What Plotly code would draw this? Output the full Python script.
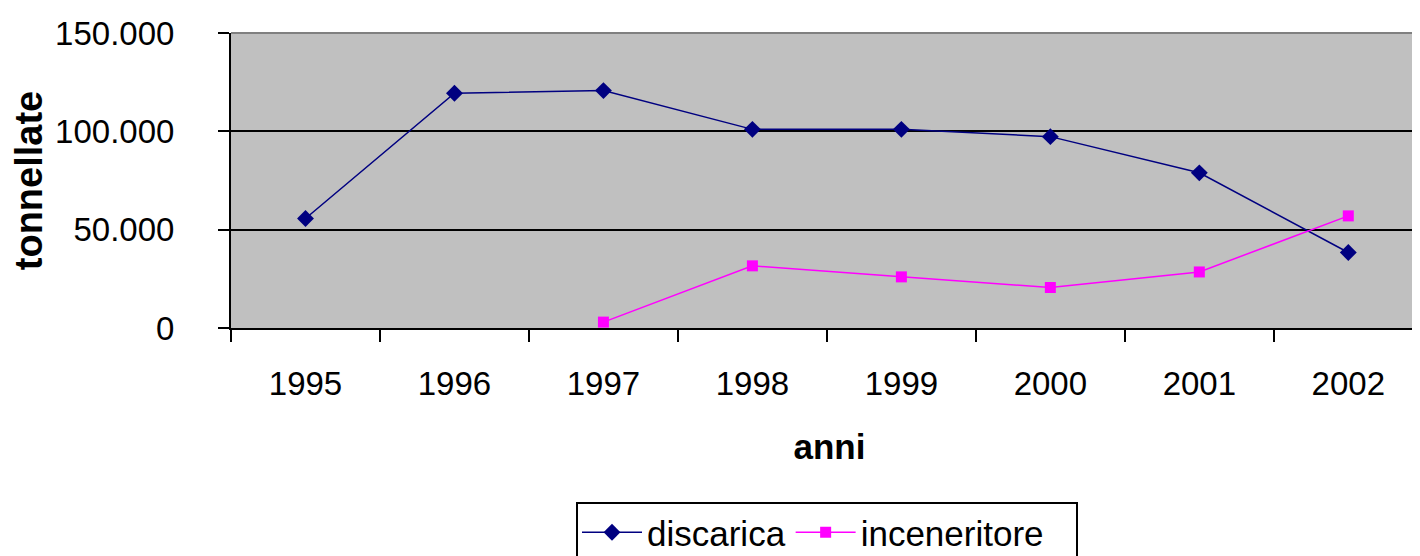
import plotly.graph_objects as go

anni = ["1995", "1996", "1997", "1998", "1999", "2000", "2001", "2002"]
discarica = [55700, 119400, 120700, 101000, 101000, 97300, 78900, 38400]
inceneritore = [None, None, 3000, 31600, 26000, 20600, 28500, 57000]
y_ticks = [0, 50000, 100000, 150000]
y_tick_labels = ["0", "50.000", "100.000", "150.000"]

FONT = "Liberation Sans, Arial, sans-serif"

fig = go.Figure()
fig.add_trace(go.Scatter(
    x=anni, y=discarica, name="discarica", mode="lines+markers",
    line=dict(color="#000080", width=1.5),
    marker=dict(symbol="diamond", size=13, color="#000080"),
))
fig.add_trace(go.Scatter(
    x=anni, y=inceneritore, name="inceneritore", mode="lines+markers",
    line=dict(color="#FF00FF", width=1.5),
    marker=dict(symbol="square", size=11, color="#FF00FF"),
))

# page body has an 8px margin, so the figure is drawn shifted by (8, 8)
fig.update_layout(
    width=1420, height=556,
    margin=dict(l=223, r=0, t=25, b=236, autoexpand=False),
    paper_bgcolor="white",
    plot_bgcolor="#C0C0C0",
    font=dict(family=FONT, size=33, color="black"),
    showlegend=True,
    legend=dict(
        orientation="h", xref="container", yref="container",
        x=569 / 1420, xanchor="left", y=1 - 495 / 556, yanchor="top",
        borderwidth=0, bgcolor="rgba(0,0,0,0)",
        font=dict(family=FONT, size=35, color="black"),
        itemwidth=60, tracegroupgap=0,
    ),
    xaxis=dict(
        type="category", range=[-0.5, 7.535], automargin=False,
        tickson="boundaries", ticks="outside", ticklen=12, tickwidth=1.5, tickcolor="black",
        showline=True, linecolor="black", linewidth=2,
        showgrid=False, zeroline=False,
        tickfont=dict(size=33),
        ticklabelstandoff=25,
        title=dict(text="<b>anni</b>", font=dict(size=35), standoff=34),
    ),
    yaxis=dict(
        range=[0, 150000], tickvals=y_ticks, ticktext=y_tick_labels, automargin=False,
        ticks="outside", ticklen=11, tickwidth=1.5, tickcolor="black",
        showline=True, linecolor="black", linewidth=2,
        showgrid=True, gridcolor="black", gridwidth=1.5,
        zeroline=False,
        tickfont=dict(size=33),
        ticklabelstandoff=37,
        title=dict(text="<b>tonnellate</b>", font=dict(size=38), standoff=20),
    ),
    shapes=[
        dict(type="line", xref="paper", yref="paper", x0=0, x1=1, y0=1, y1=1,
             line=dict(color="#808080", width=2), layer="above"),
        # legend frame (runs past the bottom edge, as in the reference)
        dict(type="rect", xref="paper", yref="paper",
             x0=0.28906, x1=0.70677, y0=-0.5932, y1=-0.8136,
             line=dict(color="black", width=2), fillcolor="white", layer="below"),
    ],
)

fig.write_html("out.html")
